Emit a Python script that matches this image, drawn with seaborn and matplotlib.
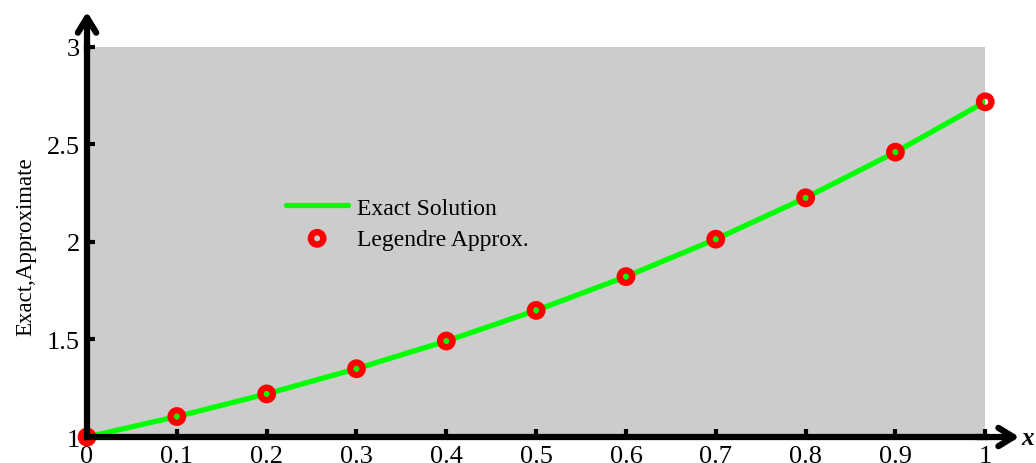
import matplotlib
matplotlib.use("Agg")
import matplotlib.pyplot as plt
import seaborn as sns
import pandas as pd

# Sample points and solution values
x_vals = [0.0, 0.1, 0.2, 0.3, 0.4, 0.5, 0.6, 0.7, 0.8, 0.9, 1.0]
exact_vals = [1.000, 1.105, 1.221, 1.350, 1.492, 1.649, 1.822, 2.014, 2.226, 2.460, 2.718]
approx_vals = [1.000, 1.105, 1.221, 1.350, 1.492, 1.649, 1.822, 2.014, 2.226, 2.460, 2.718]

x_ticks = [0.0, 0.1, 0.2, 0.3, 0.4, 0.5, 0.6, 0.7, 0.8, 0.9, 1.0]
x_tick_labels = ["0", "0.1", "0.2", "0.3", "0.4", "0.5", "0.6", "0.7", "0.8", "0.9", "1"]
y_ticks = [1.0, 1.5, 2.0, 2.5, 3.0]
y_tick_labels = ["1", "1.5", "2", "2.5", "3"]

sns.set_theme(style="ticks")
plt.rcParams["font.family"] = ["Liberation Serif", "DejaVu Serif"]
plt.rcParams["text.color"] = "black"
plt.rcParams["axes.labelcolor"] = "black"
plt.rcParams["xtick.color"] = "black"
plt.rcParams["ytick.color"] = "black"

df = pd.DataFrame({"x": x_vals, "exact": exact_vals, "approx": approx_vals})

fig = plt.figure(figsize=(10.36, 4.64), dpi=100)
ax = fig.add_axes([0.084, 0.056, 0.867, 0.841])
ax.set_facecolor("#cccccc")

sns.lineplot(data=df, x="x", y="exact", ax=ax, color="#00ff00", lw=3.8,
             label="Exact Solution", zorder=3)
sns.scatterplot(data=df, x="x", y="approx", ax=ax, marker="o", s=80,
                facecolors="none", edgecolor="#ff0000", linewidth=4.6,
                label="Legendre Approx.", zorder=4, clip_on=False)

ax.set_xlim(0, 1)
ax.set_ylim(1, 3)
ax.set_xticks(x_ticks)
ax.set_xticklabels(x_tick_labels)
ax.set_yticks(y_ticks)
ax.set_yticklabels(y_tick_labels)

for side in ("top", "right"):
    ax.spines[side].set_visible(False)
for side in ("left", "bottom"):
    ax.spines[side].set_linewidth(4.5)
    ax.spines[side].set_color("black")
    ax.spines[side].set_zorder(5)

ax.tick_params(axis="both", direction="in", length=6, width=3, color="black",
               labelsize=19, labelcolor="black", pad=5)
ax.tick_params(axis="x", pad=6)

ax.set_xlabel("")
ax.set_ylabel("Exact,Approximate", fontsize=16.5, color="black")
ax.yaxis.set_label_coords(-0.057, 0.49)

# Axis arrows extending past the plotting area
ax.annotate("", xy=(0, 1.09), xytext=(0, 0.99), xycoords="axes fraction",
            arrowprops=dict(arrowstyle="->,head_length=0.9,head_width=0.55",
                            lw=4.5, color="black", shrinkA=0, shrinkB=0),
            annotation_clip=False)
ax.annotate("", xy=(1.038, 0), xytext=(0.99, 0), xycoords="axes fraction",
            arrowprops=dict(arrowstyle="->,head_length=0.9,head_width=0.55",
                            lw=4.5, color="black", shrinkA=0, shrinkB=0),
            annotation_clip=False)
ax.text(1.04, 0.0, "x", transform=ax.transAxes, fontsize=18,
        fontweight="bold", fontstyle="italic", ha="left", va="center")

leg = ax.legend(loc="upper left", bbox_to_anchor=(0.222, 0.615), frameon=False,
                fontsize=17, handlelength=2.6, handletextpad=0.4,
                borderpad=0, borderaxespad=0, labelspacing=0.4)
for t in leg.get_texts():
    t.set_color("black")

fig.savefig("out.png", dpi=100)
